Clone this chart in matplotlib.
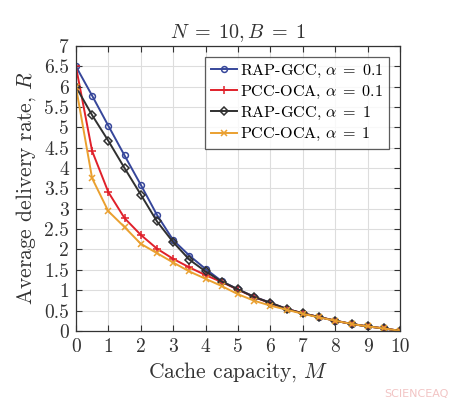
import matplotlib
matplotlib.use("Agg")
import matplotlib.pyplot as plt
import numpy as np

plt.rcParams['font.family'] = ['cmr10', 'DejaVu Serif']
plt.rcParams['mathtext.fontset'] = 'cm'
plt.rcParams['axes.formatter.use_mathtext'] = True

M = [0, 0.5, 1, 1.5, 2, 2.5, 3, 3.5, 4, 4.5, 5, 5.5, 6, 6.5, 7, 7.5, 8, 8.5, 9, 9.5, 10]
rap_01 = [6.5, 5.78, 5.04, 4.31, 3.59, 2.85, 2.23, 1.85, 1.52, 1.22, 1.02, 0.84, 0.69, 0.54, 0.43, 0.34, 0.25, 0.17, 0.11, 0.06, 0.0]
pcc_01 = [6.5, 4.42, 3.41, 2.77, 2.36, 2.02, 1.77, 1.56, 1.37, 1.20, 1.01, 0.83, 0.68, 0.54, 0.43, 0.34, 0.25, 0.17, 0.11, 0.06, 0.0]
rap_1 = [6.0, 5.30, 4.67, 4.00, 3.35, 2.69, 2.18, 1.75, 1.46, 1.21, 1.02, 0.83, 0.69, 0.54, 0.43, 0.34, 0.25, 0.17, 0.11, 0.06, 0.0]
pcc_1 = [6.0, 3.75, 2.94, 2.55, 2.14, 1.91, 1.68, 1.46, 1.28, 1.10, 0.90, 0.74, 0.62, 0.52, 0.42, 0.33, 0.25, 0.17, 0.11, 0.06, 0.0]

labels = [r'RAP-GCC, $\alpha\;=\;0.1$', r'PCC-OCA, $\alpha\;=\;0.1$',
          r'RAP-GCC, $\alpha\;=\;1$', r'PCC-OCA, $\alpha\;=\;1$']
xticks = list(range(0, 11))
yticks = [0, 0.5, 1, 1.5, 2, 2.5, 3, 3.5, 4, 4.5, 5, 5.5, 6, 6.5, 7]
yticklabels = ['0', '0.5', '1', '1.5', '2', '2.5', '3', '3.5', '4', '4.5', '5', '5.5', '6', '6.5', '7']

fig = plt.figure(figsize=(4.6, 4.07), dpi=100)
ax = fig.add_axes([0.165, 0.187, 0.705, 0.700])

ax.plot(M, rap_01, color='#36469a', marker='o', ms=4.2, mfc='none', mew=1.1, lw=1.4, label=labels[0])
ax.plot(M, pcc_01, color='#e0202a', marker='+', ms=5.5, mew=1.1, lw=1.4, label=labels[1])
ax.plot(M, rap_1, color='#303030', marker='D', ms=3.8, mfc='none', mew=1.1, lw=1.4, label=labels[2])
ax.plot(M, pcc_1, color='#eaa030', marker='x', ms=4.2, mew=1.1, lw=1.4, label=labels[3])

ax.set_xlim(0, 10)
ax.set_ylim(0, 7)
ax.set_xticks(xticks)
ax.set_xticklabels([str(t) for t in xticks])
ax.set_yticks(yticks)
ax.set_yticklabels(yticklabels)
ax.tick_params(direction='in', top=True, right=True, labelsize=14, length=4, color='#333333', labelcolor='#333333')
ax.tick_params(axis='x', pad=5)
ax.tick_params(axis='y', pad=5)
ax.grid(True, color='#dddddd', lw=0.8)
for s in ax.spines.values():
    s.set_color('#333333')
    s.set_linewidth(0.9)

ax.set_xlabel(r'Cache capacity, $M$', fontsize=15.5, color='#333333', labelpad=3)
ax.set_ylabel(r'Average delivery rate, $R$', fontsize=15.5, color='#333333', labelpad=4)
ax.set_title(r'$N\;=\;10, B\;=\;1$', fontsize=14.5, color='#333333', pad=6)

leg = ax.legend(loc='upper right', fontsize=11.6, frameon=True, fancybox=False,
                edgecolor='#333333', handlelength=1.6, handletextpad=0.2,
                borderpad=0.35, labelspacing=0.25, borderaxespad=0.7)
leg.get_frame().set_linewidth(0.9)

fig.text(0.975, 0.02, 'SCIENCEAQ', color='#f2c4c4', fontsize=8, ha='right', va='bottom',
         family='DejaVu Sans')

fig.savefig('out.png', dpi=100)
